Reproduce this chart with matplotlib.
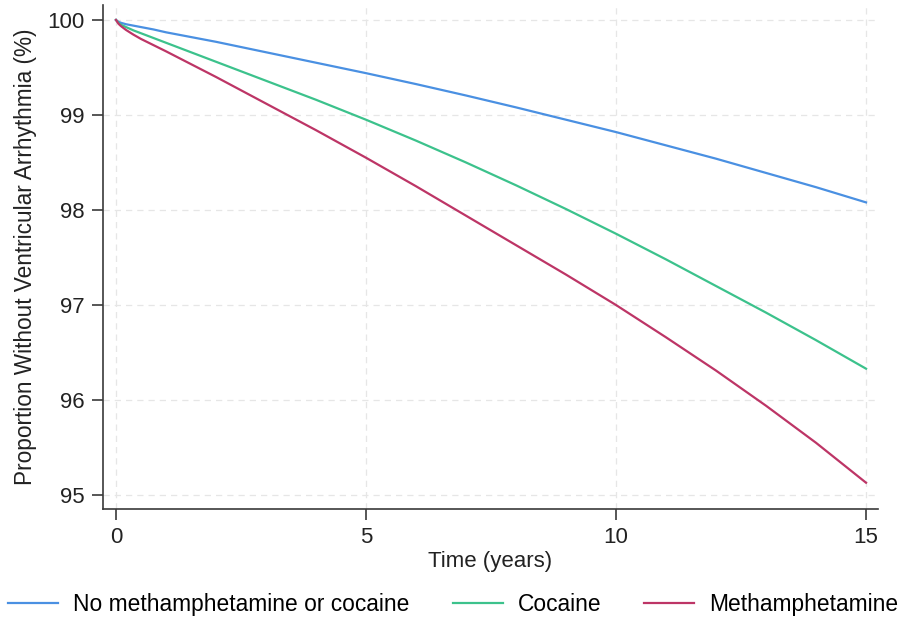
from matplotlib import pyplot as plt
import numpy as np

plt.rcParams['font.family'] = ['Liberation Sans', 'DejaVu Sans']

# survival curves (proportion without VA, %)
years = [0, 0.05, 0.1, 0.2, 0.35, 0.5, 0.75, 1, 1.5, 2, 3, 4, 5, 6, 7, 8, 9,
         10, 11, 12, 13, 14, 15]
no_use = [100, 99.98, 99.97, 99.955, 99.94, 99.925, 99.90, 99.87, 99.82, 99.77,
          99.66, 99.55, 99.44, 99.325, 99.205, 99.08, 98.95, 98.82, 98.68, 98.54,
          98.39, 98.24, 98.08]
cocaine = [100, 99.97, 99.95, 99.925, 99.89, 99.86, 99.81, 99.76, 99.66, 99.56,
           99.36, 99.16, 98.95, 98.73, 98.50, 98.26, 98.01, 97.75, 97.48, 97.20,
           96.92, 96.63, 96.33]
meth = [100, 99.96, 99.935, 99.895, 99.845, 99.80, 99.735, 99.67, 99.535, 99.40,
        99.12, 98.84, 98.55, 98.25, 97.94, 97.63, 97.32, 97.00, 96.66, 96.31,
        95.94, 95.55, 95.13]

labels = ['No methamphetamine or cocaine', 'Cocaine', 'Methamphetamine']
colors = ['#4a90e2', '#3cc28c', '#bd3566']
x_ticks = [0, 5, 10, 15]
y_ticks = [95, 96, 97, 98, 99, 100]


fig = plt.figure(figsize=(9.01, 6.17), dpi=100)
ax = fig.add_axes([0.1143, 0.175, 0.8602, 0.817])

for series, lab, col in zip([no_use, cocaine, meth], labels, colors):
    ax.plot(years, series, color=col, linewidth=1.6, label=lab)

ax.set_xlim(-0.26, 15.24)
ax.set_ylim(94.853, 100.158)
ax.set_xticks(x_ticks)
ax.set_yticks(y_ticks)
ax.grid(True, color='#e6e6e6', linestyle=(0, (5, 4)), linewidth=0.9)
ax.set_axisbelow(True)

for side in ['top', 'right']:
    ax.spines[side].set_visible(False)
for side in ['left', 'bottom']:
    ax.spines[side].set_color('#3a3a3a')
    ax.spines[side].set_linewidth(1.2)
ax.tick_params(axis='both', length=8, width=1.2, color='#3a3a3a',
               labelsize=16, labelcolor='#222222', pad=5)

ax.set_xlabel('Time (years)', fontsize=16, color='#222222', labelpad=2)
ax.set_ylabel('Proportion Without Ventricular Arrhythmia (%)', fontsize=16.3,
              color='#222222', labelpad=8)

fig.legend(loc='center', bbox_to_anchor=(0.503, 0.02), ncol=3, frameon=False,
           fontsize=16.4, handlelength=2.2, columnspacing=1.9, handletextpad=0.65)

fig.savefig('out.png', dpi=100, facecolor='white')
